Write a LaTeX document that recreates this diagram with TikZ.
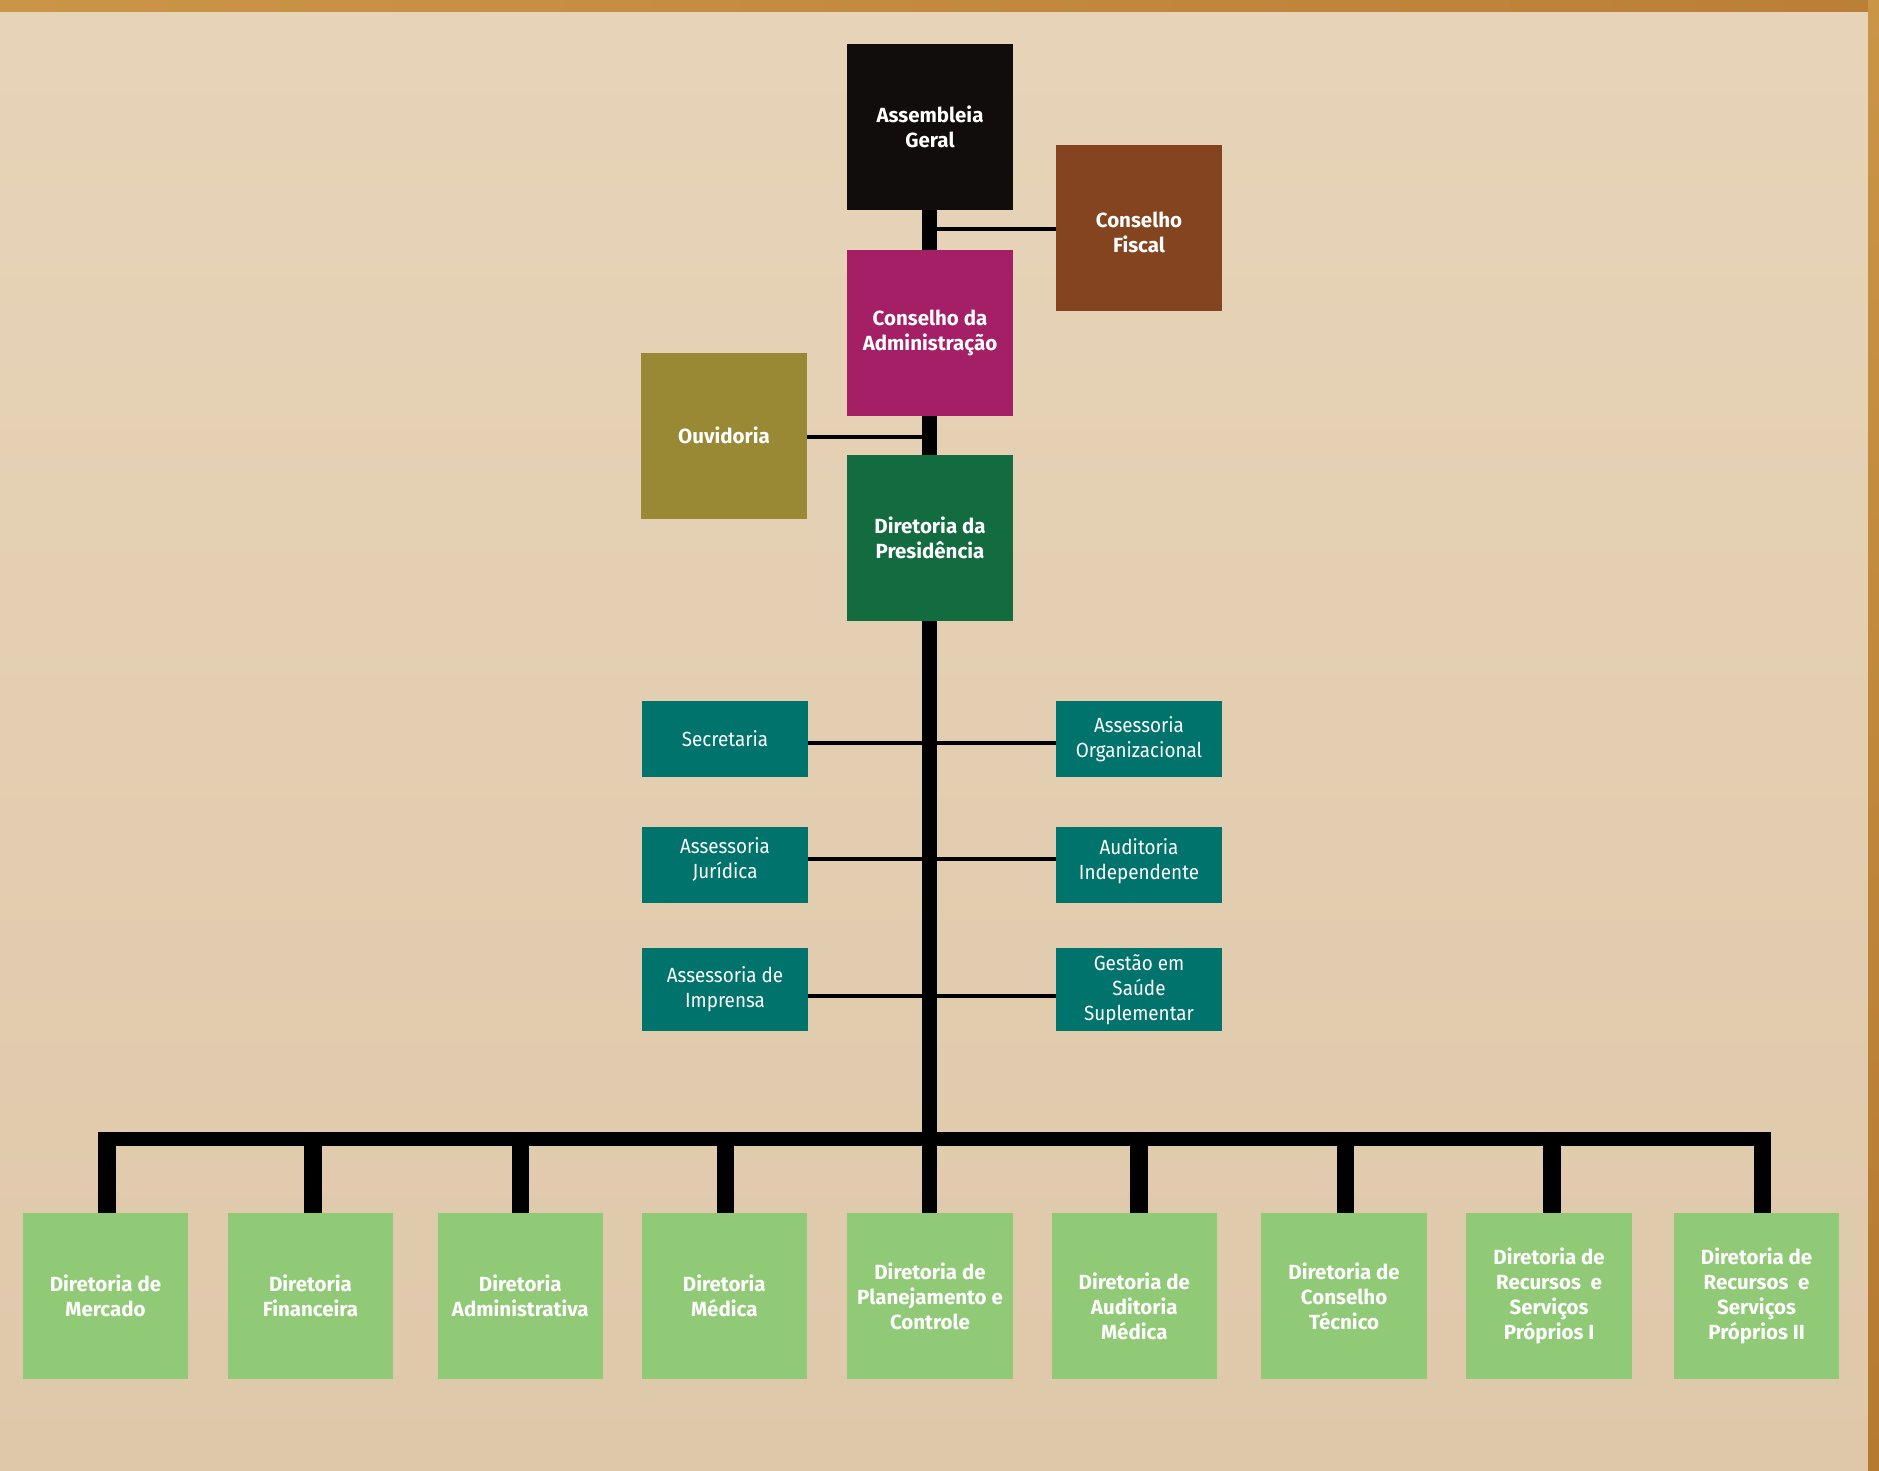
\documentclass[tikz,border=0pt]{standalone}
\usepackage{fontspec}
\setmainfont{Fira Sans}
\newfontfamily\condfont[FakeStretch=0.92]{Fira Sans}
\definecolor{paperA}{HTML}{E7D4B8}
\definecolor{paperB}{HTML}{DFC8AA}
\definecolor{woodA}{HTML}{CB9546}
\definecolor{woodB}{HTML}{B67A31}
\definecolor{cblack}{HTML}{110D0C}
\definecolor{cbrown}{HTML}{84441F}
\definecolor{cmagenta}{HTML}{A41F66}
\definecolor{colive}{HTML}{998834}
\definecolor{cdgreen}{HTML}{136B40}
\definecolor{cteal}{HTML}{00736C}
\definecolor{clgreen}{HTML}{91CA76}
\pgfdeclarelayer{paper}
\pgfdeclarelayer{lines}
\pgfsetlayers{paper,lines,main}
\begin{document}
\begin{tikzpicture}[x=1pt,y=-1pt,
  box/.style={draw=none,inner sep=0pt,align=center,text=white,minimum width=166pt},
  bigbox/.style={box,minimum height=166pt,font=\fontsize{20.5}{25}\selectfont\bfseries},
  tealbox/.style={box,fill=cteal,font=\fontsize{20.5}{25}\selectfont\condfont},
  dirbox/.style={box,fill=clgreen,minimum width=165.5pt,minimum height=165.5pt,font=\fontsize{20.5}{25}\selectfont\bfseries},
  trunk/.style={line width=14.4pt,black},
  drop/.style={line width=17.5pt,black},
  bus/.style={line width=13.7pt,black},
  side/.style={line width=4pt,black}]
\useasboundingbox (0,0) rectangle (1879,1470);
% upper boxes
\node[bigbox,fill=cblack] (ag) at (930,127) {Assembleia\\Geral};
\node[bigbox,fill=cbrown] (cf) at (1139,227.5) {\rule{0pt}{25.4pt}Conselho\\Fiscal};
\node[bigbox,fill=cmagenta] (ca) at (930,333) {Conselho da\\Administração};
\node[bigbox,fill=colive] (ou) at (724,435.8) {Ouvidoria};
\node[bigbox,fill=cdgreen] (dp) at (930,537.8) {Diretoria da\\Presidência};
% staff boxes
\node[tealbox,minimum height=76pt] (sec) at (725,739) {Secretaria};
\node[tealbox,minimum height=76pt] (aor) at (1139,739) {Assessoria\\Organizacional};
\node[tealbox,minimum height=76pt] (aj) at (725,864.6) {Assessoria\\Jurídica\rule[-13.7pt]{0pt}{13.7pt}};
\node[tealbox,minimum height=76pt] (ai) at (1139,864.6) {Auditoria\\Independente\rule[-11.5pt]{0pt}{11.5pt}};
\node[tealbox,minimum height=83pt] (aim) at (725,989.5) {Assessoria de\\Imprensa};
\node[tealbox,minimum height=83pt] (gss) at (1139,989.5) {Gestão em\\Saúde\\Suplementar};
% directorates
\node[dirbox] (b1) at (105.5,1296) {Diretoria de\\Mercado};
\node[dirbox] (b2) at (310.5,1296) {Diretoria\\Financeira};
\node[dirbox] (b3) at (520.3,1296) {Diretoria\\Administrativa};
\node[dirbox] (b4) at (724.3,1296) {Diretoria\\Médica};
\node[dirbox] (b5) at (930,1296) {Diretoria de\\Planejamento e\\Controle};
\node[dirbox] (b6) at (1134.3,1296) {\rule{0pt}{36.5pt}Diretoria de\\Auditoria\\Médica};
\node[dirbox] (b7) at (1344.1,1296) {Diretoria de\\Conselho\\Técnico};
\node[dirbox] (b8) at (1549.1,1296) {Diretoria de\\Recursos\ \ e\\Serviços\\Próprios I};
\node[dirbox] (b9) at (1756.6,1296) {Diretoria de\\Recursos\ \ e\\Serviços\\Próprios II};
% coordinates for connectors
\coordinate (busy) at (0,1139.15);
\coordinate (d1) at ([xshift=1.7pt]b1.north);
\coordinate (d2) at ([xshift=2.5pt]b2.north);
\coordinate (d3) at ([xshift=0.1pt]b3.north);
\coordinate (d4) at ([xshift=1.1pt]b4.north);
\coordinate (d6) at ([xshift=4.7pt]b6.north);
\coordinate (d7) at ([xshift=1.2pt]b7.north);
\coordinate (d8) at ([xshift=2.9pt]b8.north);
\coordinate (d9) at ([xshift=5.9pt]b9.north);
\coordinate (tt) at ([xshift=-0.5pt]ag.south);
\coordinate (tb) at ([xshift=-0.5pt]b5.north);
\coordinate (cfl) at ([yshift=-1.5pt]cf.west);
\coordinate (oul) at ([yshift=-1.2pt]ou.east);
\coordinate (l1) at ([yshift=-4pt]sec.east);
\coordinate (l2) at ([yshift=5.6pt]aj.east);
\coordinate (l3) at ([yshift=-6.5pt]aim.east);
\begin{pgfonlayer}{paper}
  \shade[top color=paperA,bottom color=paperB] (0,0) rectangle (1879,1470);
  \shade[left color=woodA,right color=woodB!80!woodA] (0,0) rectangle (1879,11);
  \shade[top color=woodA,bottom color=woodB] (1868,0) rectangle (1879,1470);
\end{pgfonlayer}
\begin{pgfonlayer}{lines}
  \draw[side] (cfl) -- (cfl -| tt);
  \draw[side] (oul) -- (oul -| tt);
  \draw[side] (l1) -- (l1 -| aor.west);
  \draw[side] (l2) -- (l2 -| ai.west);
  \draw[side] (l3) -- (l3 -| gss.west);
  \draw[trunk] (tt) -- (tb);
  \path (d1 |- busy) ++(-8.75,0) coordinate (busL);
  \path (d9 |- busy) ++(8.75,0) coordinate (busR);
  \draw[bus] (busL) -- (busR);
  \foreach \d in {d1,d2,d3,d4,d6,d7,d8,d9} {
    \draw[drop] (\d) -- (\d |- busy);
  }
\end{pgfonlayer}
\end{tikzpicture}
\end{document}
